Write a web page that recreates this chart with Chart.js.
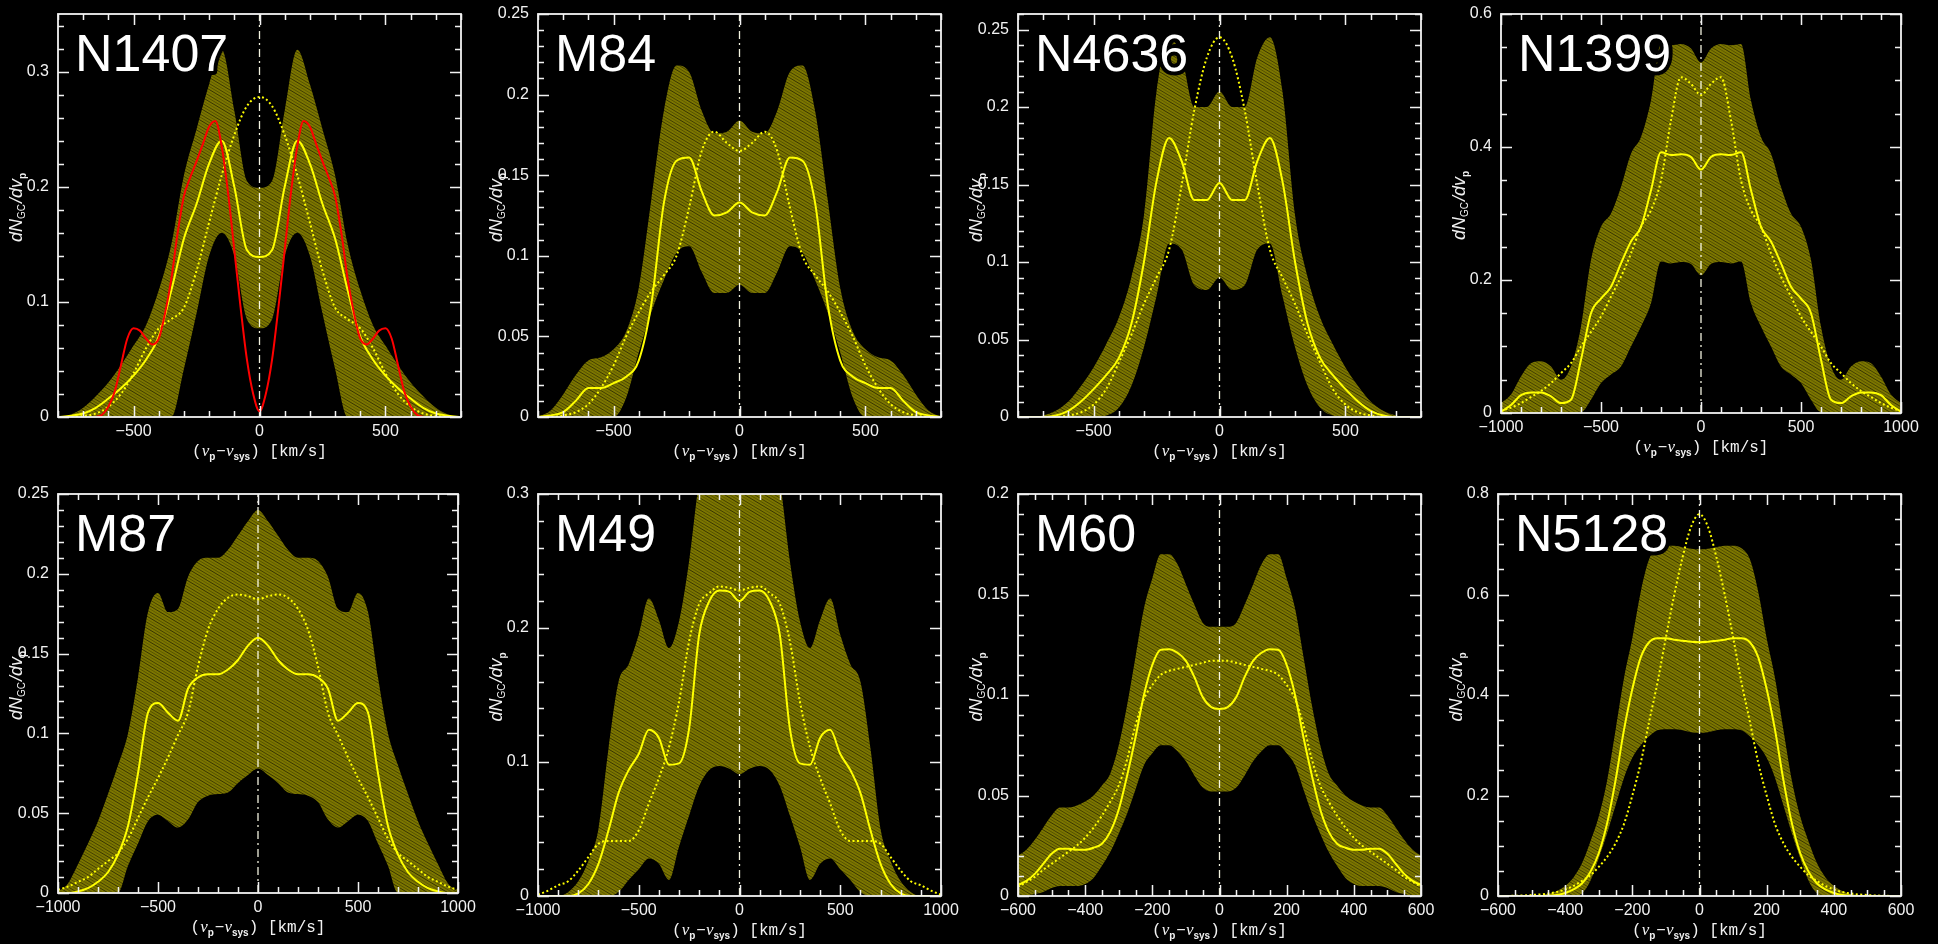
<!DOCTYPE html>
<html>
<head>
<meta charset="utf-8">
<title>Projected velocity distributions of globular clusters</title>
<script src="https://cdn.jsdelivr.net/npm/chart.js@4.4.1/dist/chart.umd.min.js"></script>
<style>
  html, body { margin: 0; padding: 0; background: #000; width: 1938px; height: 944px; overflow: hidden; }
  canvas { position: absolute; }
</style>
</head>
<body>
<script>
// ---------------------------------------------------------------
// Velocity grids, v_p - v_sys in km/s
// ---------------------------------------------------------------
const vel800 = [-800,-750,-700,-650,-600,-550,-500,-450,-400,-350,-300,-250,-200,-150,-100,-50,0,50,100,150,200,250,300,350,400,450,500,550,600,650,700,750,800];
const vel1000 = [-1000,-950,-900,-850,-800,-750,-700,-650,-600,-550,-500,-450,-400,-350,-300,-250,-200,-150,-100,-50,0,50,100,150,200,250,300,350,400,450,500,550,600,650,700,750,800,850,900,950,1000];
const vel600 = [-600,-575,-550,-525,-500,-475,-450,-425,-400,-375,-350,-325,-300,-275,-250,-225,-200,-175,-150,-125,-100,-75,-50,-25,0,25,50,75,100,125,150,175,200,225,250,275,300,325,350,375,400,425,450,475,500,525,550,575,600];
const velRed = [-650,-625,-600,-575,-550,-525,-500,-475,-450,-425,-400,-375,-350,-325,-300,-275,-250,-225,-200,-175,-150,-125,-100,-75,-50,-25,0,25,50,75,100,125,150,175,200,225,250,275,300,325,350,375,400,425,450,475,500,525,550,575,600,625,650];

// ---------------------------------------------------------------
// dN_GC/dv_p : band limits, solid model, dotted model
// ---------------------------------------------------------------
// NGC 1407
const n1407Upper  = [0,0.002,0.008,0.018,0.03,0.045,0.062,0.08,0.11,0.15,0.21,0.25,0.289,0.319,0.266,0.205,0.199,0.205,0.266,0.319,0.289,0.25,0.21,0.15,0.11,0.08,0.062,0.045,0.03,0.018,0.008,0.002,0];
const n1407Lower  = [0,0,0,0,0,0,0,0,0,0,0.042,0.09,0.14,0.16,0.14,0.085,0.077,0.085,0.14,0.16,0.14,0.09,0.042,0,0,0,0,0,0,0,0,0,0];
const n1407Solid  = [0,0.001,0.003,0.008,0.016,0.025,0.036,0.05,0.07,0.11,0.155,0.185,0.22,0.24,0.2,0.145,0.139,0.145,0.2,0.24,0.22,0.185,0.155,0.11,0.07,0.05,0.036,0.025,0.016,0.008,0.003,0.001,0];
const n1407Dotted = [0,0,0.001,0.003,0.009,0.02,0.038,0.06,0.077,0.085,0.095,0.127,0.169,0.21,0.245,0.27,0.278,0.27,0.245,0.21,0.169,0.127,0.095,0.085,0.077,0.06,0.038,0.02,0.009,0.003,0.001,0,0];
const n1407Red    = [0,0.002,0.009,0.022,0.045,0.068,0.077,0.075,0.068,0.063,0.068,0.09,0.12,0.16,0.192,0.208,0.222,0.237,0.252,0.257,0.235,0.195,0.145,0.095,0.05,0.02,0.005,0.02,0.05,0.095,0.145,0.195,0.235,0.257,0.252,0.237,0.222,0.208,0.192,0.16,0.12,0.09,0.068,0.063,0.068,0.075,0.077,0.068,0.045,0.022,0.009,0.002,0];

// M84
const m84Upper  = [0,0.004,0.014,0.026,0.035,0.037,0.042,0.053,0.08,0.135,0.19,0.218,0.214,0.19,0.176,0.177,0.184,0.177,0.176,0.19,0.214,0.218,0.19,0.135,0.08,0.053,0.042,0.037,0.035,0.026,0.014,0.004,0];
const m84Lower  = [0,0,0,0,0,0,0,0.012,0.04,0.065,0.085,0.102,0.106,0.09,0.077,0.077,0.082,0.077,0.077,0.09,0.106,0.102,0.085,0.065,0.04,0.012,0,0,0,0,0,0,0];
const m84Solid  = [0,0.001,0.003,0.01,0.018,0.018,0.021,0.025,0.035,0.07,0.133,0.159,0.161,0.14,0.125,0.127,0.133,0.127,0.125,0.14,0.161,0.159,0.133,0.07,0.035,0.025,0.021,0.018,0.018,0.01,0.003,0.001,0];
const m84Dotted = [0,0,0.001,0.003,0.008,0.018,0.032,0.05,0.065,0.078,0.088,0.1,0.13,0.165,0.177,0.17,0.165,0.17,0.177,0.165,0.13,0.1,0.088,0.078,0.065,0.05,0.032,0.018,0.008,0.003,0.001,0,0];

// NGC 4636
const n4636Upper  = [0,0,0.001,0.004,0.01,0.02,0.032,0.047,0.064,0.09,0.13,0.21,0.245,0.232,0.2,0.2,0.21,0.2,0.2,0.232,0.245,0.21,0.13,0.09,0.064,0.047,0.032,0.02,0.01,0.004,0.001,0,0];
const n4636Lower  = [0,0,0,0,0,0,0,0.001,0.006,0.02,0.045,0.078,0.112,0.108,0.085,0.082,0.09,0.082,0.085,0.108,0.112,0.078,0.045,0.02,0.006,0.001,0,0,0,0,0,0,0];
const n4636Solid  = [0,0,0,0.001,0.004,0.01,0.018,0.027,0.038,0.06,0.1,0.152,0.18,0.165,0.14,0.14,0.151,0.14,0.14,0.165,0.18,0.152,0.1,0.06,0.038,0.027,0.018,0.01,0.004,0.001,0,0,0];
const n4636Dotted = [0,0,0,0,0.001,0.003,0.008,0.018,0.035,0.053,0.073,0.09,0.108,0.15,0.198,0.232,0.245,0.232,0.198,0.15,0.108,0.09,0.073,0.053,0.035,0.018,0.008,0.003,0.001,0,0,0,0];

// NGC 1399
const n1399Upper  = [0.015,0.028,0.055,0.075,0.078,0.07,0.05,0.07,0.13,0.23,0.28,0.3,0.34,0.39,0.415,0.47,0.555,0.553,0.555,0.548,0.527,0.548,0.555,0.553,0.555,0.47,0.415,0.39,0.34,0.3,0.28,0.23,0.13,0.07,0.05,0.07,0.078,0.075,0.055,0.028,0.015];
const n1399Lower  = [0,0,0,0,0,0,0,0,0.001,0.02,0.045,0.058,0.07,0.1,0.13,0.165,0.228,0.225,0.227,0.224,0.207,0.224,0.227,0.225,0.228,0.165,0.13,0.1,0.07,0.058,0.045,0.02,0.001,0,0,0,0,0,0,0,0];
const n1399Solid  = [0.002,0.012,0.027,0.031,0.031,0.025,0.015,0.02,0.08,0.15,0.172,0.19,0.225,0.258,0.28,0.335,0.392,0.388,0.389,0.385,0.366,0.385,0.389,0.388,0.392,0.335,0.28,0.258,0.225,0.19,0.172,0.15,0.08,0.02,0.015,0.025,0.031,0.031,0.027,0.012,0.002];
const n1399Dotted = [0.003,0.008,0.015,0.024,0.033,0.045,0.06,0.075,0.1,0.122,0.145,0.175,0.205,0.24,0.28,0.305,0.35,0.44,0.505,0.495,0.478,0.495,0.505,0.44,0.35,0.305,0.28,0.24,0.205,0.175,0.145,0.122,0.1,0.075,0.06,0.045,0.033,0.024,0.015,0.008,0.003];

// M87
const m87Upper  = [0.001,0.006,0.018,0.031,0.045,0.062,0.08,0.1,0.135,0.176,0.188,0.176,0.178,0.198,0.208,0.21,0.21,0.215,0.224,0.233,0.24,0.233,0.224,0.215,0.21,0.21,0.208,0.198,0.178,0.176,0.188,0.176,0.135,0.1,0.08,0.062,0.045,0.031,0.018,0.006,0.001];
const m87Lower  = [0,0,0,0,0,0,0,0.017,0.031,0.045,0.049,0.045,0.041,0.046,0.057,0.061,0.062,0.063,0.069,0.074,0.078,0.074,0.069,0.063,0.062,0.061,0.057,0.046,0.041,0.045,0.049,0.045,0.031,0.017,0,0,0,0,0,0,0];
const m87Solid  = [0,0,0.001,0.003,0.007,0.013,0.024,0.042,0.075,0.113,0.119,0.113,0.108,0.128,0.135,0.137,0.137,0.14,0.146,0.155,0.16,0.155,0.146,0.14,0.137,0.137,0.135,0.128,0.108,0.113,0.119,0.113,0.075,0.042,0.024,0.013,0.007,0.003,0.001,0,0];
const m87Dotted = [0.002,0.004,0.007,0.01,0.015,0.02,0.025,0.034,0.047,0.06,0.072,0.085,0.099,0.113,0.142,0.165,0.178,0.185,0.187,0.186,0.184,0.186,0.187,0.185,0.178,0.165,0.142,0.113,0.099,0.085,0.072,0.06,0.047,0.034,0.025,0.02,0.015,0.01,0.007,0.004,0.002];

// M49
const m49Upper  = [0,0,0,0.003,0.011,0.026,0.05,0.11,0.16,0.173,0.195,0.222,0.206,0.185,0.205,0.25,0.31,0.345,0.37,0.39,0.4,0.39,0.37,0.345,0.31,0.25,0.205,0.185,0.206,0.222,0.195,0.173,0.16,0.11,0.05,0.026,0.011,0.003,0,0,0];
const m49Lower  = [0,0,0,0,0,0,0,0,0.003,0.012,0.02,0.028,0.024,0.012,0.037,0.06,0.082,0.094,0.097,0.095,0.091,0.095,0.097,0.094,0.082,0.06,0.037,0.012,0.024,0.028,0.02,0.012,0.003,0,0,0,0,0,0,0,0];
const m49Solid  = [0,0,0,0,0.002,0.009,0.024,0.049,0.077,0.094,0.106,0.124,0.118,0.098,0.099,0.125,0.195,0.22,0.228,0.227,0.22,0.227,0.228,0.22,0.195,0.125,0.099,0.098,0.118,0.124,0.106,0.094,0.077,0.049,0.024,0.009,0.002,0,0,0,0];
const m49Dotted = [0.001,0.004,0.008,0.011,0.019,0.029,0.039,0.041,0.041,0.041,0.049,0.069,0.088,0.111,0.145,0.19,0.218,0.226,0.231,0.23,0.228,0.23,0.231,0.226,0.218,0.19,0.145,0.111,0.088,0.069,0.049,0.041,0.041,0.041,0.039,0.029,0.019,0.011,0.008,0.004,0.001];

// M60
const m60Upper  = [0.02,0.023,0.028,0.034,0.04,0.044,0.044,0.045,0.047,0.05,0.055,0.061,0.075,0.095,0.119,0.143,0.158,0.17,0.17,0.165,0.155,0.145,0.136,0.134,0.134,0.134,0.136,0.145,0.155,0.165,0.17,0.17,0.158,0.143,0.119,0.095,0.075,0.061,0.055,0.05,0.047,0.045,0.044,0.044,0.04,0.034,0.028,0.023,0.02];
const m60Lower  = [0,0,0.001,0.002,0.004,0.005,0.005,0.005,0.006,0.009,0.015,0.022,0.031,0.041,0.053,0.065,0.071,0.075,0.075,0.072,0.067,0.06,0.054,0.052,0.052,0.052,0.054,0.06,0.067,0.072,0.075,0.075,0.071,0.065,0.053,0.041,0.031,0.022,0.015,0.009,0.006,0.005,0.005,0.005,0.004,0.002,0.001,0,0];
const m60Solid  = [0.0055,0.0075,0.011,0.016,0.021,0.0235,0.0235,0.023,0.023,0.024,0.026,0.032,0.043,0.06,0.079,0.1,0.115,0.1225,0.1228,0.121,0.117,0.109,0.099,0.094,0.093,0.094,0.099,0.109,0.117,0.121,0.1228,0.1225,0.115,0.1,0.079,0.06,0.043,0.032,0.026,0.024,0.023,0.023,0.0235,0.0235,0.021,0.016,0.011,0.0075,0.0055];
const m60Dotted = [0.0046,0.007,0.0095,0.013,0.016,0.019,0.022,0.025,0.029,0.034,0.04,0.047,0.055,0.068,0.085,0.098,0.105,0.11,0.112,0.113,0.114,0.115,0.116,0.117,0.117,0.117,0.116,0.115,0.114,0.113,0.112,0.11,0.105,0.098,0.085,0.068,0.055,0.047,0.04,0.034,0.029,0.025,0.022,0.019,0.016,0.013,0.0095,0.007,0.0046];

// NGC 5128
const n5128Upper  = [0,0,0,0,0,0.001,0.004,0.01,0.02,0.037,0.065,0.108,0.158,0.23,0.33,0.433,0.513,0.605,0.67,0.692,0.697,0.697,0.694,0.691,0.69,0.691,0.694,0.697,0.697,0.692,0.67,0.605,0.513,0.433,0.33,0.23,0.158,0.108,0.065,0.037,0.02,0.01,0.004,0.001,0,0,0,0,0];
const n5128Lower  = [0,0,0,0,0,0,0,0,0,0,0.005,0.03,0.075,0.125,0.18,0.235,0.275,0.3,0.318,0.33,0.332,0.332,0.33,0.326,0.325,0.326,0.33,0.332,0.332,0.33,0.318,0.3,0.275,0.235,0.18,0.125,0.075,0.03,0.005,0,0,0,0,0,0,0,0,0,0];
const n5128Solid  = [0,0,0,0,0,0,0.001,0.002,0.006,0.013,0.025,0.048,0.085,0.145,0.23,0.33,0.412,0.475,0.505,0.513,0.513,0.51,0.508,0.506,0.505,0.506,0.508,0.51,0.513,0.513,0.505,0.475,0.412,0.33,0.23,0.145,0.085,0.048,0.025,0.013,0.006,0.002,0.001,0,0,0,0,0,0];
const n5128Dotted = [0,0,0.0005,0.001,0.002,0.003,0.005,0.008,0.013,0.02,0.03,0.041,0.058,0.078,0.105,0.143,0.2,0.265,0.347,0.425,0.515,0.6,0.675,0.735,0.76,0.735,0.675,0.6,0.515,0.425,0.347,0.265,0.2,0.143,0.105,0.078,0.058,0.041,0.03,0.02,0.013,0.008,0.005,0.003,0.002,0.001,0.0005,0,0];

// ---------------------------------------------------------------
// Tick labels
// ---------------------------------------------------------------
const xTicks800  = [-500, 0, 500];
const xTicks1000 = [-1000, -500, 0, 500, 1000];
const xTicks600  = [-600, -400, -200, 0, 200, 400, 600];
const yTicksN1407 = [0, 0.1, 0.2, 0.3];
const yTicksM84   = [0, 0.05, 0.1, 0.15, 0.2, 0.25];
const yTicksN4636 = [0, 0.05, 0.1, 0.15, 0.2, 0.25];
const yTicksN1399 = [0, 0.2, 0.4, 0.6];
const yTicksM87   = [0, 0.05, 0.1, 0.15, 0.2, 0.25];
const yTicksM49   = [0, 0.1, 0.2, 0.3];
const yTicksM60   = [0, 0.05, 0.1, 0.15, 0.2];
const yTicksN5128 = [0, 0.2, 0.4, 0.6, 0.8];

// Galaxy names
const galaxyNames = ['N1407', 'M84', 'N4636', 'N1399', 'M87', 'M49', 'M60', 'N5128'];

// ---------------------------------------------------------------
// Panel definitions (data + axis ranges)
// ---------------------------------------------------------------
const panels = [
  { x: vel800,  upper: n1407Upper, lower: n1407Lower, solid: n1407Solid, dotted: n1407Dotted, redX: velRed, red: n1407Red,
    xMin: -800, xMax: 800, yMax: 0.35, xTicks: xTicks800, yTicks: yTicksN1407, xMinor: 100, yMinor: 0.02 },
  { x: vel800,  upper: m84Upper, lower: m84Lower, solid: m84Solid, dotted: m84Dotted,
    xMin: -800, xMax: 800, yMax: 0.25, xTicks: xTicks800, yTicks: yTicksM84, xMinor: 100, yMinor: 0.01 },
  { x: vel800,  upper: n4636Upper, lower: n4636Lower, solid: n4636Solid, dotted: n4636Dotted,
    xMin: -800, xMax: 800, yMax: 0.26, xTicks: xTicks800, yTicks: yTicksN4636, xMinor: 100, yMinor: 0.01 },
  { x: vel1000, upper: n1399Upper, lower: n1399Lower, solid: n1399Solid, dotted: n1399Dotted,
    xMin: -1000, xMax: 1000, yMax: 0.6, xTicks: xTicks1000, yTicks: yTicksN1399, xMinor: 100, yMinor: 0.05 },
  { x: vel1000, upper: m87Upper, lower: m87Lower, solid: m87Solid, dotted: m87Dotted,
    xMin: -1000, xMax: 1000, yMax: 0.25, xTicks: xTicks1000, yTicks: yTicksM87, xMinor: 100, yMinor: 0.01 },
  { x: vel1000, upper: m49Upper, lower: m49Lower, solid: m49Solid, dotted: m49Dotted,
    xMin: -1000, xMax: 1000, yMax: 0.3, xTicks: xTicks1000, yTicks: yTicksM49, xMinor: 100, yMinor: 0.02 },
  { x: vel600,  upper: m60Upper, lower: m60Lower, solid: m60Solid, dotted: m60Dotted,
    xMin: -600, xMax: 600, yMax: 0.2, xTicks: xTicks600, yTicks: yTicksM60, xMinor: 50, yMinor: 0.01 },
  { x: vel600,  upper: n5128Upper, lower: n5128Lower, solid: n5128Solid, dotted: n5128Dotted,
    xMin: -600, xMax: 600, yMax: 0.8, xTicks: xTicks600, yTicks: yTicksN5128, xMinor: 50, yMinor: 0.05 }
];

// Plot-area boxes on the page: [left, top, right, bottom]
const plotBoxes = [
  [58, 14, 461, 417], [538, 14, 941, 417], [1018, 14, 1421, 417], [1501, 14, 1901, 413],
  [58, 494, 458, 893], [538, 494, 941, 896], [1018, 494, 1421, 896], [1498, 494, 1901, 896]
];

// ---------------------------------------------------------------
// Styling helpers
// ---------------------------------------------------------------
const GAP_LEFT = 58, GAP_TOP = 14, GAP_RIGHT = 30, GAP_BOTTOM = 56;
const WHITE = '#f2f2f2';
const SANS = '"Liberation Sans", Arial, sans-serif';
const MONO = '"Liberation Mono", "Courier New", monospace';
const SERIF = '"Liberation Serif", "Times New Roman", serif';

function fmtTick(v) {
  return String(v).replace('-', '\u2212');
}

function pairs(xs, ys) {
  return xs.map((x, i) => ({ x: x, y: ys[i] }));
}

// olive band with dense diagonal hatching
function hatchPattern(ctx) {
  const c = document.createElement('canvas');
  c.width = 20; c.height = 12;
  const g = c.getContext('2d');
  g.fillStyle = 'rgb(124,118,0)';
  g.fillRect(0, 0, 20, 12);
  const alphas = [0.55, 0.22, 0.45, 0.3];
  for (let k = -4; k <= 4; k++) {
    g.strokeStyle = 'rgba(0,0,0,' + alphas[(k + 8) % 4] + ')';
    g.lineWidth = 1;
    g.beginPath();
    g.moveTo(0, k * 3);
    g.lineTo(20, k * 3 + 12);
    g.stroke();
  }
  return ctx.createPattern(c, 'repeat');
}

// draws a run of text pieces (with sub-scripts) centred on (cx, cy)
function drawRuns(ctx, runs, cx, cy) {
  let total = 0;
  runs.forEach(r => { ctx.font = r.font; r.w = ctx.measureText(r.t).width + (r.gap || 0); total += r.w; });
  let x = cx - total / 2;
  ctx.textBaseline = 'middle';
  ctx.textAlign = 'left';
  runs.forEach(r => {
    ctx.font = r.font;
    ctx.fillText(r.t, x, cy + (r.dy || 0));
    x += r.w;
  });
}

function decorPlugin(p, name) {
  return {
    id: 'decor',
    afterDatasetsDraw(chart) {
      const { ctx, chartArea: a } = chart;
      const xs = chart.scales.x, ys = chart.scales.y;
      ctx.save();
      ctx.strokeStyle = WHITE;
      ctx.lineWidth = 1.5;
      ctx.beginPath();
      // x ticks, bottom and top, pointing inwards
      const nx = Math.round((p.xMax - p.xMin) / p.xMinor);
      for (let i = 0; i <= nx; i++) {
        const v = p.xMin + i * p.xMinor;
        const len = p.xTicks.includes(v) ? 11 : 6;
        const px = Math.round(xs.getPixelForValue(v)) + 0.5;
        ctx.moveTo(px, a.bottom); ctx.lineTo(px, a.bottom - len);
        ctx.moveTo(px, a.top); ctx.lineTo(px, a.top + len);
      }
      // y ticks, left and right
      const ny = Math.floor(p.yMax / p.yMinor + 1e-6);
      for (let i = 0; i <= ny; i++) {
        const v = +(i * p.yMinor).toFixed(4);
        const len = p.yTicks.some(t => Math.abs(t - v) < 1e-6) ? 11 : 6;
        const py = Math.round(ys.getPixelForValue(v)) + 0.5;
        ctx.moveTo(a.left, py); ctx.lineTo(a.left + len, py);
        ctx.moveTo(a.right, py); ctx.lineTo(a.right - len, py);
      }
      ctx.stroke();
      ctx.lineWidth = 1.8;
      ctx.strokeRect(a.left, a.top, a.right - a.left, a.bottom - a.top);
      ctx.restore();
    },
    afterDraw(chart) {
      const { ctx, chartArea: a } = chart;
      ctx.save();
      // galaxy name
      ctx.font = '52px ' + SANS;
      ctx.textAlign = 'left';
      ctx.textBaseline = 'alphabetic';
      ctx.lineJoin = 'round';
      ctx.lineWidth = 8;
      ctx.strokeStyle = '#000';
      ctx.strokeText(name, a.left + 17, a.top + 57);
      ctx.fillStyle = '#fff';
      ctx.fillText(name, a.left + 17, a.top + 57);

      // x-axis title
      ctx.fillStyle = WHITE;
      drawRuns(ctx, [
        { t: '(', font: '16px ' + MONO },
        { t: 'v', font: 'italic 17px ' + SERIF },
        { t: 'p', font: 'bold 10px ' + SANS, dy: 5, gap: 1 },
        { t: '\u2212', font: '16px ' + MONO },
        { t: 'v', font: 'italic 17px ' + SERIF },
        { t: 'sys', font: 'bold 10px ' + SANS, dy: 5 },
        { t: ')', font: '16px ' + MONO },
        { t: ' [km/s]', font: '16px ' + MONO }
      ], (a.left + a.right) / 2, a.bottom + 35);

      // y-axis title, rotated
      ctx.translate(a.left - 41, (a.top + a.bottom) / 2 - 8);
      ctx.rotate(-Math.PI / 2);
      drawRuns(ctx, [
        { t: 'dN', font: 'italic 18px ' + SANS },
        { t: 'GC', font: '10px ' + SANS, dy: 5, gap: 1 },
        { t: '/dv', font: 'italic 18px ' + SANS },
        { t: 'p', font: 'bold 10px ' + SANS, dy: 6 }
      ], 0, 0);
      ctx.restore();
    }
  };
}

// ---------------------------------------------------------------
// Build the eight charts
// ---------------------------------------------------------------
panels.forEach((p, i) => {
  const [L, T, R, B] = plotBoxes[i];
  const w = R - L + GAP_LEFT + GAP_RIGHT;
  const h = B - T + GAP_TOP + GAP_BOTTOM;
  const cv = document.createElement('canvas');
  cv.width = w; cv.height = h;
  cv.style.left = (L - GAP_LEFT) + 'px';
  cv.style.top = (T - GAP_TOP) + 'px';
  cv.style.width = w + 'px';
  cv.style.height = h + 'px';
  document.body.appendChild(cv);
  const ctx = cv.getContext('2d');

  const lineBase = { pointRadius: 0, pointHoverRadius: 0, cubicInterpolationMode: 'monotone', fill: false };
  const datasets = [
    Object.assign({}, lineBase, { label: 'band upper', data: pairs(p.x, p.upper), borderWidth: 0, borderColor: 'rgba(0,0,0,0)',
      backgroundColor: hatchPattern(ctx), fill: '+1', order: 6 }),
    Object.assign({}, lineBase, { label: 'band lower', data: pairs(p.x, p.lower), borderWidth: 0, borderColor: 'rgba(0,0,0,0)', order: 5 }),
    Object.assign({}, lineBase, { label: 'systemic', data: [{ x: 0, y: 0 }, { x: 0, y: p.yMax }], borderColor: 'rgba(255,255,235,0.95)',
      borderWidth: 1.3, borderDash: [8, 4, 2, 4], cubicInterpolationMode: 'default', tension: 0, order: 4 }),
    Object.assign({}, lineBase, { label: 'dotted', data: pairs(p.x, p.dotted), borderColor: '#ffff00', borderWidth: 2, borderDash: [2, 2.5], order: 3 }),
    Object.assign({}, lineBase, { label: 'solid', data: pairs(p.x, p.solid), borderColor: '#ffff00', borderWidth: 2, order: 2 })
  ];
  if (p.red) {
    datasets.push(Object.assign({}, lineBase, { label: 'red', data: pairs(p.redX, p.red), borderColor: '#ff0000', borderWidth: 2, order: 1 }));
  }

  new Chart(cv, {
    type: 'line',
    data: { datasets: datasets },
    options: {
      responsive: false,
      devicePixelRatio: 1,
      animation: false,
      events: [],
      layout: { padding: { top: GAP_TOP, right: GAP_RIGHT, bottom: 0, left: 0 } },
      plugins: { legend: { display: false }, tooltip: { enabled: false }, filler: { propagate: false } },
      scales: {
        x: {
          type: 'linear', min: p.xMin, max: p.xMax,
          grid: { display: false, drawTicks: false },
          border: { display: false },
          afterBuildTicks: s => { s.ticks = p.xTicks.map(v => ({ value: v })); },
          afterFit: s => { s.height = GAP_BOTTOM; s.paddingLeft = 0; s.paddingRight = 0; },
          ticks: { color: WHITE, font: { family: SANS, size: 16 }, padding: 5, maxRotation: 0, autoSkip: false, callback: v => fmtTick(v) }
        },
        y: {
          type: 'linear', min: 0, max: p.yMax,
          grid: { display: false, drawTicks: false },
          border: { display: false },
          afterBuildTicks: s => { s.ticks = p.yTicks.map(v => ({ value: v })); },
          afterFit: s => { s.width = GAP_LEFT; s.paddingTop = 0; s.paddingBottom = 0; },
          ticks: { color: WHITE, font: { family: SANS, size: 16 }, padding: 9, autoSkip: false, callback: v => fmtTick(v) }
        }
      }
    },
    plugins: [decorPlugin(p, galaxyNames[i])]
  });
});
</script>
</body>
</html>
